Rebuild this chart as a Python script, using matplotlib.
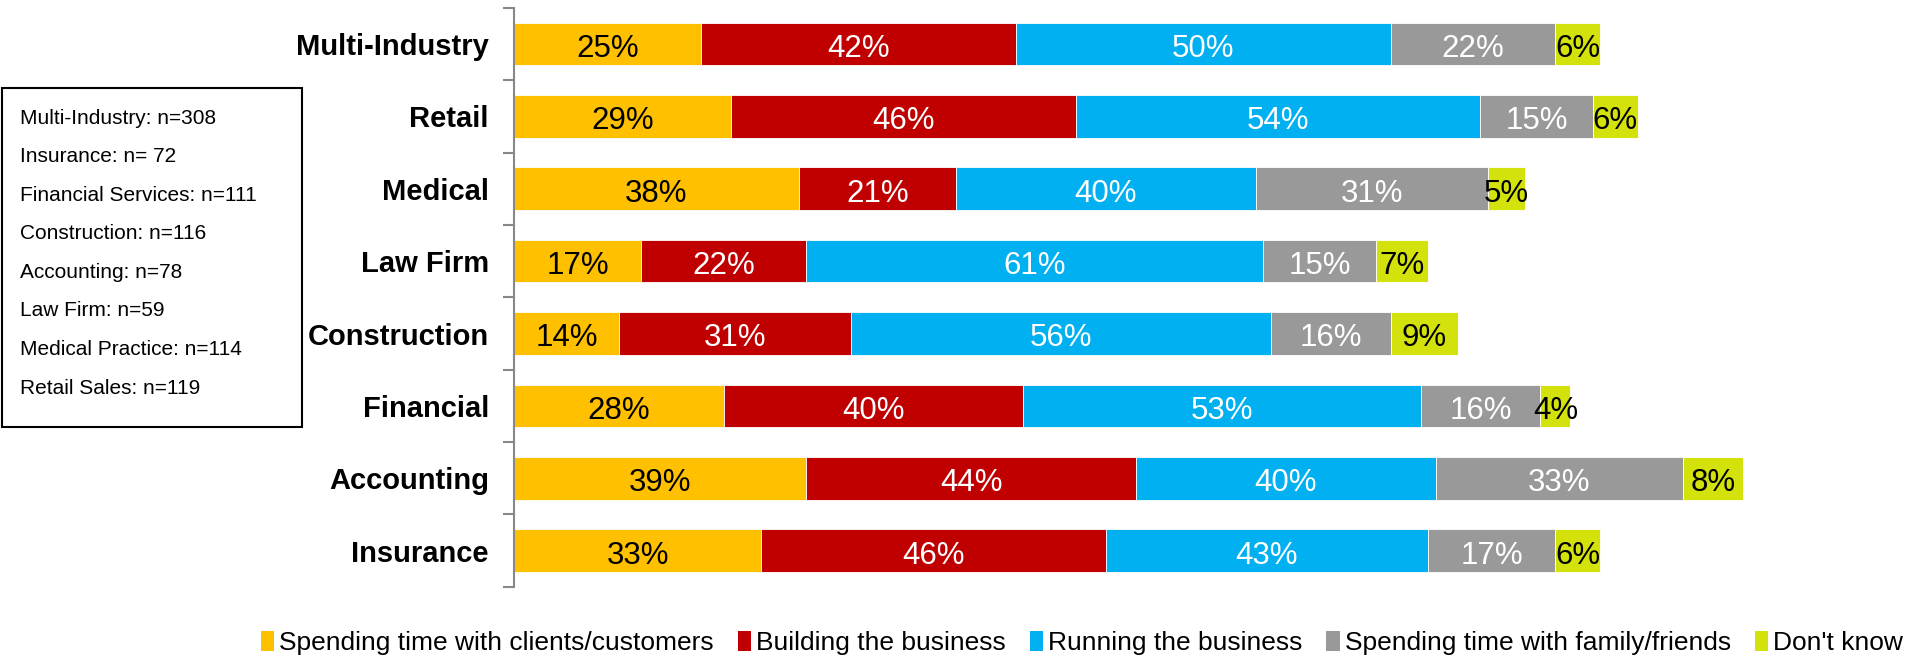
import numpy as np
import matplotlib.pyplot as plt
from matplotlib.patches import Patch, Rectangle

plt.rcParams['font.family'] = ['Liberation Sans', 'DejaVu Sans']

# data (top to bottom)
industries = ["Multi-Industry", "Retail", "Medical", "Law Firm",
              "Construction", "Financial", "Accounting", "Insurance"]
series = ["Spending time with clients/customers", "Building the business",
          "Running the business", "Spending time with family/friends", "Don't know"]
clients = [25, 29, 38, 17, 14, 28, 39, 33]
building = [42, 46, 21, 22, 31, 40, 44, 46]
running = [50, 54, 40, 61, 56, 53, 40, 43]
family = [22, 15, 31, 15, 16, 16, 33, 17]
dont_know = [6, 6, 5, 7, 9, 4, 8, 6]
sample_sizes = ["Multi-Industry: n=308", "Insurance: n= 72", "Financial Services: n=111",
                "Construction: n=116", "Accounting: n=78", "Law Firm: n=59",
                "Medical Practice: n=114", "Retail Sales: n=119"]

colors = ["#FFC000", "#C00000", "#00B0F0", "#999999", "#D4E20C"]
text_colors = ["black", "white", "white", "white", "black"]

fig = plt.figure(figsize=(19.15, 6.6), dpi=100)
ax = fig.add_axes([0.2684, 0.111, 0.7238, 0.877])

y = np.arange(len(industries))
left = np.zeros(len(industries))
for vals, col, tcol in zip([clients, building, running, family, dont_know], colors, text_colors):
    vals = np.array(vals, dtype=float)
    ax.barh(y, vals, left=left, height=0.59, color=col, edgecolor="white", linewidth=0.6)
    for yi, (l, v) in enumerate(zip(left, vals)):
        ax.text(l + v / 2, yi + 0.02, f"{int(v)}%", ha="center", va="center_baseline",
                fontsize=22.5, color=tcol)
    left += vals

ax.set_xlim(0, 185)
ax.set_ylim(len(industries) - 0.5, -0.5)
ax.set_yticks(y)
ax.set_yticklabels(industries, fontsize=21, fontweight="bold")
ax.tick_params(axis="y", which="major", length=0, pad=18)
ax.set_yticks(np.arange(-0.5, len(industries)), minor=True)
ax.tick_params(axis="y", which="minor", length=8, color="#888888", width=1.5)
ax.set_xticks([])
for s in ["top", "right", "bottom"]:
    ax.spines[s].set_visible(False)
ax.spines["left"].set_color("#888888")
ax.spines["left"].set_linewidth(1.5)

# sample size box
W, H = 1915, 660
fig.patches.append(Rectangle((2 / W, 1 - 427 / H), 300 / W, 339 / H,
                             transform=fig.transFigure, fill=False,
                             edgecolor="black", linewidth=1.5))
for i, s in enumerate(sample_sizes):
    fig.text(20 / W, 1 - (118 + i * 38.6) / H, s, fontsize=15, va="center", ha="left")

handles = [Patch(facecolor=c, edgecolor="none") for c in colors]
fig.legend(handles, series, loc="center", bbox_to_anchor=(0.565, 0.026), ncol=5,
           frameon=False, fontsize=19, handlelength=0.5, handleheight=0.8,
           handletextpad=0.2, columnspacing=0.9)

fig.savefig("out.png", dpi=100)
